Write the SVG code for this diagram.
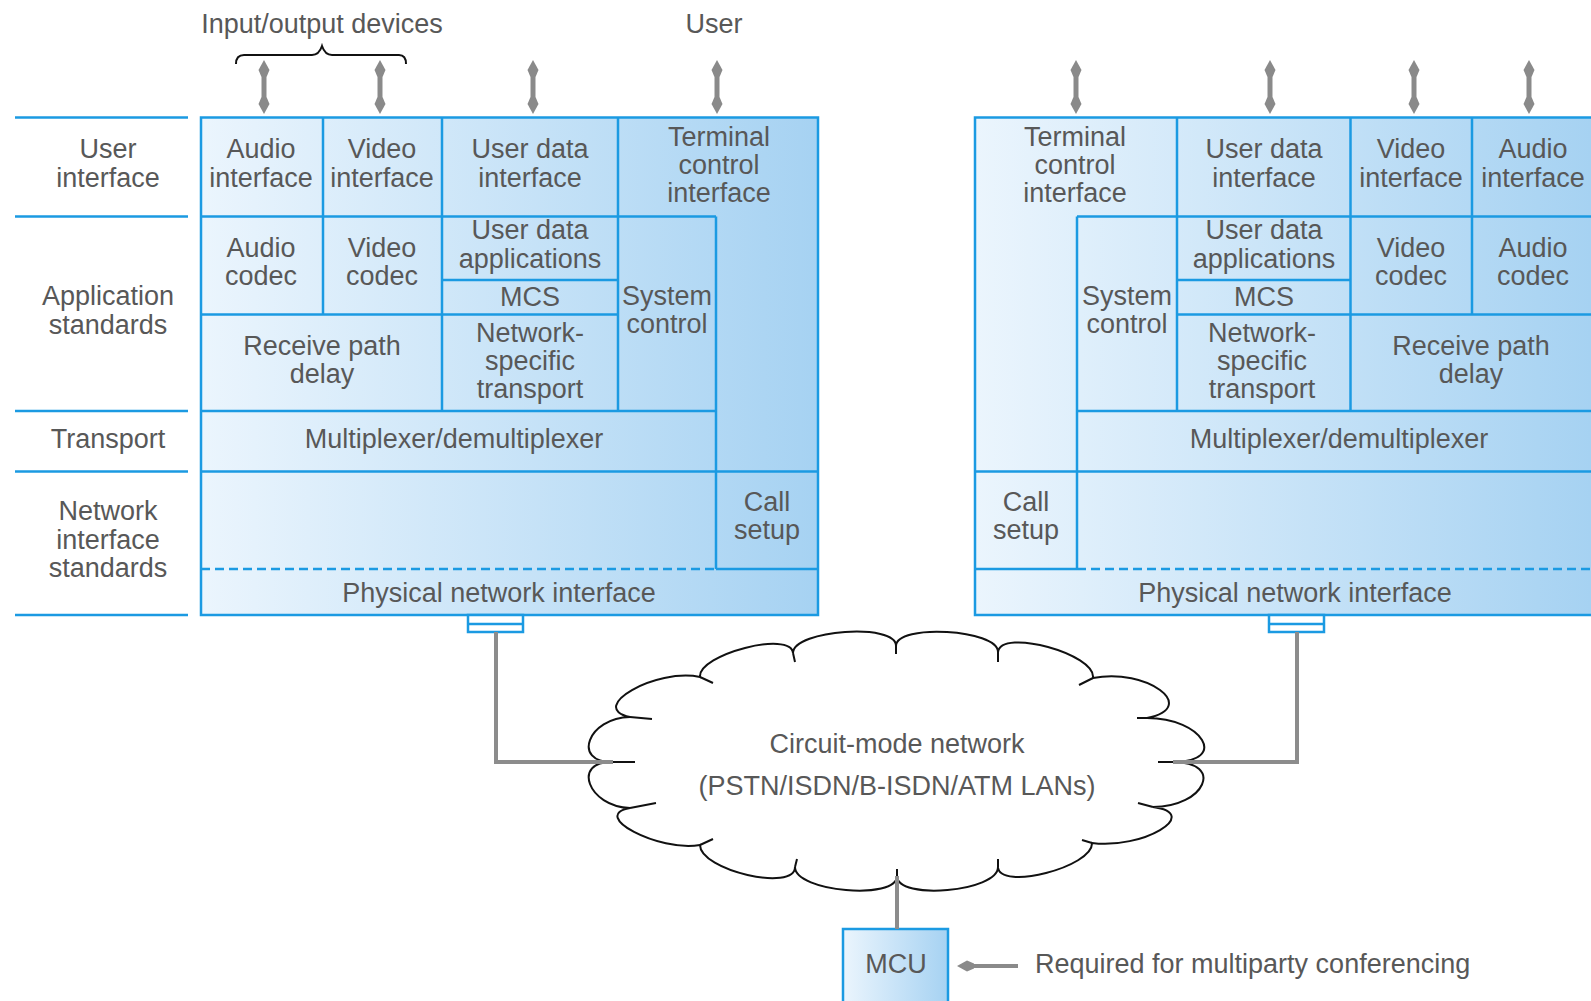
<svg xmlns="http://www.w3.org/2000/svg" width="1591" height="1001" viewBox="0 0 1591 1001">
  <defs>
    <linearGradient id="gradL" gradientUnits="userSpaceOnUse" x1="201" y1="0" x2="818" y2="0">
      <stop offset="0" stop-color="#ebf5fd"/>
      <stop offset="1" stop-color="#a6d2f2"/>
    </linearGradient>
    <linearGradient id="gradR" gradientUnits="userSpaceOnUse" x1="975" y1="0" x2="1591" y2="0">
      <stop offset="0" stop-color="#ebf5fd"/>
      <stop offset="1" stop-color="#a6d2f2"/>
    </linearGradient>
    <linearGradient id="gradM" gradientUnits="userSpaceOnUse" x1="843" y1="0" x2="948" y2="0">
      <stop offset="0" stop-color="#ebf5fd"/>
      <stop offset="1" stop-color="#a6d2f2"/>
    </linearGradient>
    <marker id="head" markerUnits="userSpaceOnUse" viewBox="0 -6 17 12" markerWidth="17" markerHeight="12" refX="0" refY="0" orient="auto-start-reverse">
      <path d="M0,-2.5 L7,-5.5 L17,0 L7,5.5 L0,2.5 Z" fill="#8a8a8a"/>
    </marker>
  </defs>
  <style>
    text { font-family: "Liberation Sans", Arial, sans-serif; font-size: 27px; fill: #585858; text-anchor: middle; }
    .cellL { fill: url(#gradL); }
    .cellR { fill: url(#gradR); }
    .edge { stroke: #1b9ae2; stroke-width: 2.5; fill: none; }
    .dash { stroke-dasharray: 9 5; }
    .wire { stroke: #8c8c8c; stroke-width: 4; fill: none; }
    .arr { stroke: #8a8a8a; stroke-width: 5; marker-start: url(#head); marker-end: url(#head); }
    .cloud { fill: #fff; stroke: #111; stroke-width: 2; }
    .tail { stroke: #111; stroke-width: 2; fill: none; }
    .brace { stroke: #111; stroke-width: 2; fill: none; }
    .port { fill: #fff; stroke: #1b9ae2; stroke-width: 2.5; }
  </style>

  <rect width="1591" height="1001" fill="#fff"/>

  <!-- layer labels on the left -->
  <g id="layer-labels">
    <g class="edge">
      <line x1="15" y1="117.5" x2="188" y2="117.5"/>
      <line x1="15" y1="216.5" x2="188" y2="216.5"/>
      <line x1="15" y1="411" x2="188" y2="411"/>
      <line x1="15" y1="471.5" x2="188" y2="471.5"/>
      <line x1="15" y1="615" x2="188" y2="615"/>
    </g>
    <text x="108" y="158">User</text>
    <text x="108" y="187">interface</text>
    <text x="108" y="305">Application</text>
    <text x="108" y="334">standards</text>
    <text x="108" y="448">Transport</text>
    <text x="108" y="520">Network</text>
    <text x="108" y="549">interface</text>
    <text x="108" y="577">standards</text>
  </g>

  <!-- top captions -->
  <g id="io-devices">
    <path class="brace" d="M236,64 Q236,55 244,55 H312 Q319,55 322,46 Q325,55 332,55 H399 Q406,55 406,64"/>
    <text x="322" y="33">Input/output devices</text>
  </g>
  <g id="user">
    <text x="714" y="33">User</text>
  </g>

  <!-- left terminal -->
  <g id="terminal-left">
    <g id="l-audio-if"><rect class="cellL" x="201" y="117.5" width="122" height="99"/>
      <text x="261" y="158">Audio</text><text x="261" y="187">interface</text></g>
    <g id="l-video-if"><rect class="cellL" x="323" y="117.5" width="119" height="99"/>
      <text x="382" y="158">Video</text><text x="382" y="187">interface</text></g>
    <g id="l-userdata-if"><rect class="cellL" x="442" y="117.5" width="176" height="99"/>
      <text x="530" y="158">User data</text><text x="530" y="187">interface</text></g>
    <g id="l-terminal-ctrl"><path class="cellL" d="M618,117.5 H818 V471.5 H716 V216.5 H618 Z"/>
      <text x="719" y="146">Terminal</text><text x="719" y="174">control</text><text x="719" y="202">interface</text></g>
    <g id="l-audio-codec"><rect class="cellL" x="201" y="216.5" width="122" height="98"/>
      <text x="261" y="257">Audio</text><text x="261" y="285">codec</text></g>
    <g id="l-video-codec"><rect class="cellL" x="323" y="216.5" width="119" height="98"/>
      <text x="382" y="257">Video</text><text x="382" y="285">codec</text></g>
    <g id="l-userdata-apps"><rect class="cellL" x="442" y="216.5" width="176" height="63.5"/>
      <text x="530" y="239">User data</text><text x="530" y="268">applications</text></g>
    <g id="l-mcs"><rect class="cellL" x="442" y="280" width="176" height="34.5"/>
      <text x="530" y="306">MCS</text></g>
    <g id="l-system-ctrl"><rect class="cellL" x="618" y="216.5" width="98" height="194.5"/>
      <text x="667" y="305">System</text><text x="667" y="333">control</text></g>
    <g id="l-receive-delay"><rect class="cellL" x="201" y="314.5" width="241" height="96.5"/>
      <text x="322" y="355">Receive path</text><text x="322" y="383">delay</text></g>
    <g id="l-net-transport"><rect class="cellL" x="442" y="314.5" width="176" height="96.5"/>
      <text x="530" y="342">Network-</text><text x="530" y="370">specific</text><text x="530" y="398">transport</text></g>
    <g id="l-mux"><rect class="cellL" x="201" y="411" width="515" height="60.5"/>
      <text x="454" y="448">Multiplexer/demultiplexer</text></g>
    <g id="l-net-area"><rect class="cellL" x="201" y="471.5" width="515" height="97.5"/></g>
    <g id="l-call-setup"><rect class="cellL" x="716" y="471.5" width="102" height="97.5"/>
      <text x="767" y="511">Call</text><text x="767" y="539">setup</text></g>
    <g id="l-physical"><rect class="cellL" x="201" y="569" width="617" height="46"/>
      <text x="499" y="602">Physical network interface</text></g>
    <g class="edge">
      <rect x="201" y="117.5" width="617" height="497.5"/>
      <line x1="201" y1="216.5" x2="716" y2="216.5"/>
      <line x1="323" y1="117.5" x2="323" y2="314.5"/>
      <line x1="442" y1="117.5" x2="442" y2="411"/>
      <line x1="618" y1="117.5" x2="618" y2="411"/>
      <line x1="716" y1="216.5" x2="716" y2="569"/>
      <line x1="442" y1="280" x2="618" y2="280"/>
      <line x1="201" y1="314.5" x2="618" y2="314.5"/>
      <line x1="201" y1="411" x2="716" y2="411"/>
      <line x1="201" y1="471.5" x2="818" y2="471.5"/>
      <line class="dash" x1="201" y1="569" x2="716" y2="569"/>
      <line x1="716" y1="569" x2="818" y2="569"/>
    </g>
    <g id="l-port">
      <rect class="port" x="468" y="615" width="55" height="17"/>
      <line class="edge" x1="468" y1="624" x2="523" y2="624"/>
    </g>
  </g>

  <!-- right terminal -->
  <g id="terminal-right">
    <g id="r-terminal-ctrl"><path class="cellR" d="M975,117.5 H1177 V216.5 H1077 V471.5 H975 Z"/>
      <text x="1075" y="146">Terminal</text><text x="1075" y="174">control</text><text x="1075" y="202">interface</text></g>
    <g id="r-userdata-if"><rect class="cellR" x="1177" y="117.5" width="173.5" height="99"/>
      <text x="1264" y="158">User data</text><text x="1264" y="187">interface</text></g>
    <g id="r-video-if"><rect class="cellR" x="1350.5" y="117.5" width="121.5" height="99"/>
      <text x="1411" y="158">Video</text><text x="1411" y="187">interface</text></g>
    <g id="r-audio-if"><rect class="cellR" x="1472" y="117.5" width="128" height="99"/>
      <text x="1533" y="158">Audio</text><text x="1533" y="187">interface</text></g>
    <g id="r-system-ctrl"><rect class="cellR" x="1077" y="216.5" width="100" height="194.5"/>
      <text x="1127" y="305">System</text><text x="1127" y="333">control</text></g>
    <g id="r-userdata-apps"><rect class="cellR" x="1177" y="216.5" width="173.5" height="63.5"/>
      <text x="1264" y="239">User data</text><text x="1264" y="268">applications</text></g>
    <g id="r-mcs"><rect class="cellR" x="1177" y="280" width="173.5" height="34.5"/>
      <text x="1264" y="306">MCS</text></g>
    <g id="r-net-transport"><rect class="cellR" x="1177" y="314.5" width="173.5" height="96.5"/>
      <text x="1262" y="342">Network-</text><text x="1262" y="370">specific</text><text x="1262" y="398">transport</text></g>
    <g id="r-video-codec"><rect class="cellR" x="1350.5" y="216.5" width="121.5" height="98"/>
      <text x="1411" y="257">Video</text><text x="1411" y="285">codec</text></g>
    <g id="r-audio-codec"><rect class="cellR" x="1472" y="216.5" width="128" height="98"/>
      <text x="1533" y="257">Audio</text><text x="1533" y="285">codec</text></g>
    <g id="r-receive-delay"><rect class="cellR" x="1350.5" y="314.5" width="249.5" height="96.5"/>
      <text x="1471" y="355">Receive path</text><text x="1471" y="383">delay</text></g>
    <g id="r-mux"><rect class="cellR" x="1077" y="411" width="523" height="60.5"/>
      <text x="1339" y="448">Multiplexer/demultiplexer</text></g>
    <g id="r-call-setup"><rect class="cellR" x="975" y="471.5" width="102" height="97.5"/>
      <text x="1026" y="511">Call</text><text x="1026" y="539">setup</text></g>
    <g id="r-net-area"><rect class="cellR" x="1077" y="471.5" width="523" height="97.5"/></g>
    <g id="r-physical"><rect class="cellR" x="975" y="569" width="625" height="46"/>
      <text x="1295" y="602">Physical network interface</text></g>
    <g class="edge">
      <rect x="975" y="117.5" width="640" height="497.5"/>
      <line x1="1077" y1="216.5" x2="1600" y2="216.5"/>
      <line x1="1177" y1="117.5" x2="1177" y2="411"/>
      <line x1="1350.5" y1="117.5" x2="1350.5" y2="411"/>
      <line x1="1472" y1="117.5" x2="1472" y2="314.5"/>
      <line x1="1077" y1="216.5" x2="1077" y2="569"/>
      <line x1="1177" y1="280" x2="1350.5" y2="280"/>
      <line x1="1177" y1="314.5" x2="1600" y2="314.5"/>
      <line x1="1077" y1="411" x2="1600" y2="411"/>
      <line x1="975" y1="471.5" x2="1600" y2="471.5"/>
      <line x1="975" y1="569" x2="1077" y2="569"/>
      <line class="dash" x1="1077" y1="569" x2="1600" y2="569"/>
    </g>
    <g id="r-port">
      <rect class="port" x="1269" y="615" width="55" height="17"/>
      <line class="edge" x1="1269" y1="624" x2="1324" y2="624"/>
    </g>
  </g>

  <!-- circuit-mode network cloud -->
  <g id="network">
    <path class="cloud" d="M896,646
      C896,623.3 998,629.3 998,652
      C1001.3,628 1096.3,654 1093,678
      C1146.3,667.3 1200.3,707.3 1147,718
      C1203,718 1229,762 1173,762
      C1225,762 1205,807 1153,807
      C1203,813.7 1142,849.7 1092,843
      C1093.3,867 999.3,891 998,867
      C998,891.7 897,900.7 897,876
      C897,900.7 795,891.7 795,867
      C795,892.3 700,870.3 700,845
      C658.7,852.3 588.7,815.3 630,808
      C588,806.7 571,760.7 613,762
      C571,762.7 588,717.7 630,717
      C586,707.7 656,667.7 700,677
      C698,654.3 791,630.3 793,653
      C793.7,629.7 896.7,622.7 896,646 Z"/>
    <path class="tail" d="M896,646 v8 M998,652 v10 M1093,678 l-14,7 M1147,718 h-10 M1173,762 h-15 M1153,807 l-15,-4 M1092,843 l-10,-3 M998,867 v-8 M897,876 v-7 M795,867 l2,-8 M700,845 l13,-6 M630,808 l26,-5 M613,762 h22 M630,717 l22,2 M700,677 l13,6 M793,653 l2,9"/>
    <text x="897" y="753">Circuit-mode network</text>
    <text x="897" y="795">(PSTN/ISDN/B-ISDN/ATM LANs)</text>
  </g>

  <!-- multipoint control unit -->
  <g id="mcu">
    <rect x="843" y="929" width="105" height="90" fill="url(#gradM)" stroke="#1b9ae2" stroke-width="2.5"/>
    <text x="896" y="973">MCU</text>
  </g>
  <g id="mcu-note">
    <text x="1035" y="973" style="text-anchor:start">Required for multiparty conferencing</text>
  </g>

  <!-- connectors -->
  <g id="connectors">
    <path class="wire" d="M496,632 V762 H613"/>
    <path class="wire" d="M1297,632 V762 H1173"/>
    <path class="wire" d="M897,876 V929"/>
    <line x1="1018" y1="966" x2="974" y2="966" stroke="#8a8a8a" stroke-width="4" marker-end="url(#head)"/>
    <line class="arr" x1="264" y1="77" x2="264" y2="97"/>
    <line class="arr" x1="380" y1="77" x2="380" y2="97"/>
    <line class="arr" x1="533" y1="77" x2="533" y2="97"/>
    <line class="arr" x1="717" y1="77" x2="717" y2="97"/>
    <line class="arr" x1="1076" y1="77" x2="1076" y2="97"/>
    <line class="arr" x1="1270" y1="77" x2="1270" y2="97"/>
    <line class="arr" x1="1414" y1="77" x2="1414" y2="97"/>
    <line class="arr" x1="1529" y1="77" x2="1529" y2="97"/>
  </g>
</svg>
